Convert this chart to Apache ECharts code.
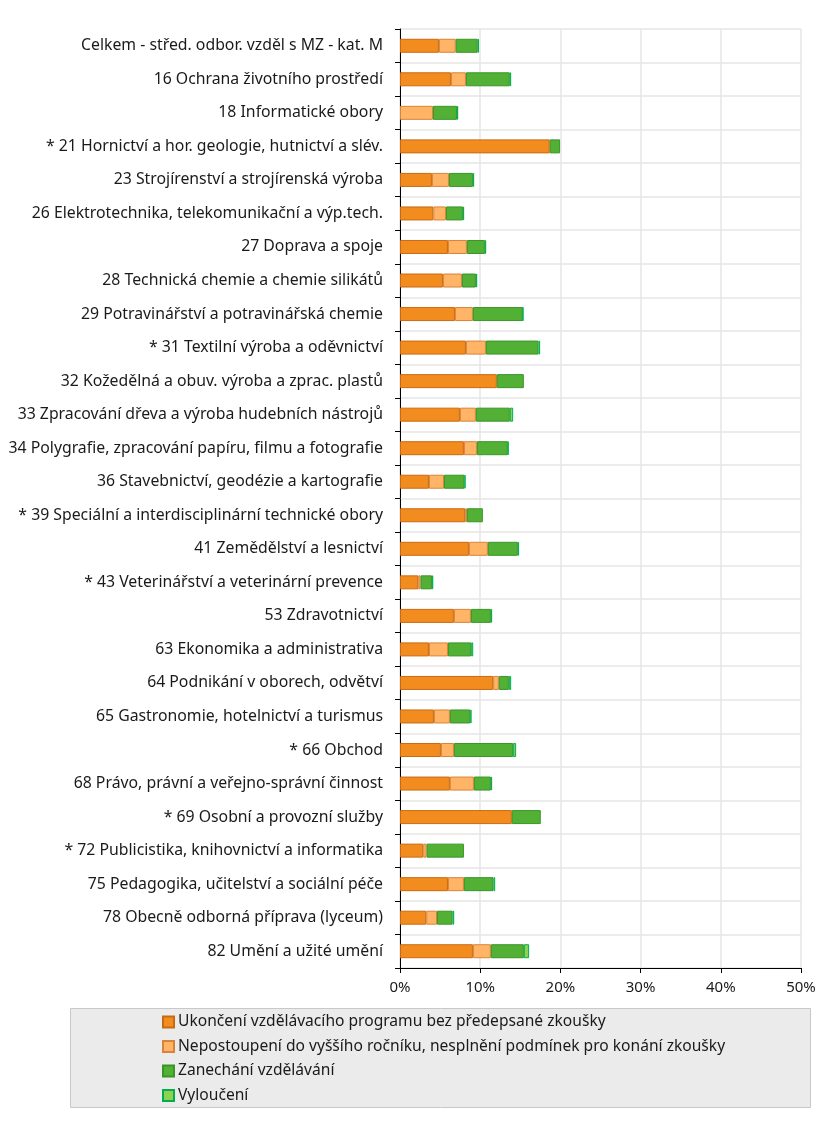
<!DOCTYPE html>
<html><head><meta charset="utf-8">
<script src="https://cdn.jsdelivr.net/npm/echarts@6/dist/echarts.min.js"></script>
<style>html,body{margin:0;padding:0;background:#fff}#c{width:839px;height:1127px}</style>
</head><body><div id="c"></div>
<script>
const categories = [
"Celkem - střed. odbor. vzděl s MZ - kat. M",
"16 Ochrana životního prostředí",
"18 Informatické obory",
"* 21 Hornictví a hor. geologie, hutnictví a slév.",
"23 Strojírenství a strojírenská výroba",
"26 Elektrotechnika, telekomunikační a výp.tech.",
"27 Doprava a spoje",
"28 Technická chemie a chemie silikátů",
"29 Potravinářství a potravinářská chemie",
"* 31 Textilní výroba a oděvnictví",
"32 Kožedělná a obuv. výroba a zprac. plastů",
"33 Zpracování dřeva a výroba hudebních nástrojů",
"34 Polygrafie, zpracování papíru, filmu a fotografie",
"36 Stavebnictví, geodézie a kartografie",
"* 39 Speciální a interdisciplinární technické obory",
"41 Zemědělství a lesnictví",
"* 43 Veterinářství a veterinární prevence",
"53 Zdravotnictví",
"63 Ekonomika a administrativa",
"64 Podnikání v oborech, odvětví",
"65 Gastronomie, hotelnictví a turismus",
"* 66 Obchod",
"68 Právo, právní a veřejno-správní činnost",
"* 69 Osobní a provozní služby",
"* 72 Publicistika, knihovnictví a informatika",
"75 Pedagogika, učitelství a sociální péče",
"78 Obecně odborná příprava (lyceum)",
"82 Umění a užité umění"
];
const seriesNames = [
"Ukončení vzdělávacího programu bez předepsané zkoušky",
"Nepostoupení do vyššího ročníku, nesplnění podmínek pro konání zkoušky",
"Zanechání vzdělávání",
"Vyloučení"
];
const ukonceni   = [4.85,6.35,null,18.67,3.98,4.15,5.98,5.35,6.85,8.22,12.07,7.47,7.97,3.61,8.13,8.59,2.28,6.72,3.61,11.62,4.23,5.10,6.22,13.94,2.90,5.98,3.28,9.09];
const nepostoupeni = [2.10,1.87,4.11,null,2.12,1.58,2.36,2.37,2.24,2.49,null,1.99,1.62,1.87,0.21,2.36,0.29,2.12,2.37,0.70,1.99,1.62,2.99,null,0.42,1.99,1.33,2.24];
const zanechani  = [2.74,5.47,2.99,1.29,2.99,2.11,2.24,1.74,6.22,6.55,3.37,4.23,3.85,2.57,1.99,3.74,1.41,2.49,2.90,1.25,2.54,7.39,2.12,3.61,4.65,3.69,1.95,4.11];
const vylouceni  = [0.17,0.17,0.16,null,0.16,0.16,0.17,0.17,0.05,0.21,null,0.42,0.09,0.12,null,0.16,0.17,0.16,0.25,0.29,0.16,0.37,0.16,null,null,0.21,0.20,0.66];
const xTicks = [0,10,20,30,40,50];

const FONT = "Noto Sans";
const styles = [
  {color:'#F28C1E', borderColor:'#C96A12'},
  {color:'#FFB466', borderColor:'#D7843A'},
  {color:'#52B135', borderColor:'#3A9428'},
  {color:'#92D050', borderColor:'#00B050'}
];
const dataArr = [ukonceni, nepostoupeni, zanechani, vylouceni];

const chart = echarts.init(document.getElementById('c'), null, {renderer:'canvas'});
chart.setOption({
  animation:false,
  backgroundColor:'#fff',
  textStyle:{fontFamily:FONT},
  graphic:[{type:'rect', left:70, top:1008, shape:{width:740, height:99},
    style:{fill:'#EBEBEB', stroke:'#C8C8C8', lineWidth:1}, z:-10}],
  legend:{
    orient:'vertical', left:162, top:1014, padding:0, itemWidth:11, itemHeight:11, icon:'rect',
    itemGap:8.5, data:seriesNames,
    textStyle:{fontFamily:FONT, fontSize:15.6, color:'#1a1a1a', lineHeight:15, padding:[0,0,0,-1]}
  },
  grid:{left:400, right:38, top:29, bottom:159, containLabel:false},
  xAxis:{type:'value', min:0, max:50, interval:10,
    axisLine:{show:true, lineStyle:{color:'#000', width:1}},
    axisTick:{show:true, length:5, lineStyle:{color:'#000'}},
    axisLabel:{formatter:v=>v+'%', fontFamily:FONT, fontSize:15, color:'#1a1a1a', margin:12},
    splitLine:{show:true, lineStyle:{color:'#E6E6E6', width:1.5}}
  },
  yAxis:{type:'category', data:categories, inverse:true,
    axisLine:{show:true, lineStyle:{color:'#000', width:1}},
    axisTick:{show:true, length:5, lineStyle:{color:'#000'}},
    axisLabel:{fontFamily:FONT, fontSize:15.8, color:'#1a1a1a', margin:17},
    splitLine:{show:true, lineStyle:{color:'#E6E6E6', width:1.5}}
  },
  series: seriesNames.map((n,i)=>({
    name:n, type:'bar', stack:'t', barWidth:14, data:dataArr[i],
    itemStyle:{color:styles[i].color, borderColor:styles[i].borderColor, borderWidth:1}
  }))
});
</script></body></html>
